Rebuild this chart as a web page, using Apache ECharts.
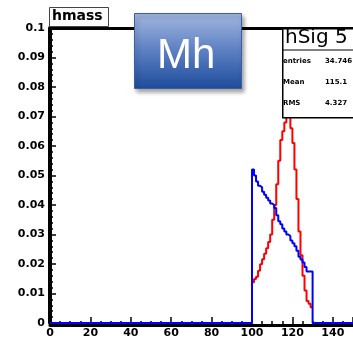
<!DOCTYPE html>
<html>
<head>
<meta charset="utf-8">
<script src="https://cdn.jsdelivr.net/npm/echarts@6/dist/echarts.min.js"></script>
<style>
html,body{margin:0;padding:0;background:#fff;}
#chart{width:353px;height:339px;}
</style>
</head>
<body>
<div id="chart"></div>
<script>
// ---- data ----
const binLowEdges = [100,101,102,103,104,105,106,107,108,109,110,111,112,113,114,115,116,117,118,119,120,121,122,123,124,125,126,127,128,129];
const binWidth = 1;
const blueValues = [0.052,0.050,0.048,0.0465,0.046,0.0445,0.0435,0.0425,0.0415,0.0405,0.040,0.039,0.0365,0.0345,0.0335,0.032,0.031,0.030,0.0295,0.028,0.027,0.026,0.0245,0.0225,0.0215,0.0205,0.019,0.0175,0.0175,0.0175];
const redValues  = [0.0138,0.0149,0.0157,0.0177,0.0199,0.0216,0.0235,0.0253,0.0275,0.030,0.035,0.040,0.047,0.055,0.062,0.065,0.068,0.0705,0.0705,0.066,0.061,0.052,0.042,0.031,0.023,0.016,0.011,0.0075,0.0065,0.0053];
const xMin = 0, xMax = 150, xInterval = 20;
const yMin = 0, yMax = 0.1, yInterval = 0.01;
const histTitle = 'hmass';
const boxLabel = 'Mh';
const statsTitle = 'hSig 5';
const statsNames = ['entries', 'Mean', 'RMS'];
const statsValues = ['34.746', '115.1', '4.327'];

// ---- build histogram outlines ----
const lastEdge = binLowEdges[binLowEdges.length - 1] + binWidth;
const blueData = [[xMin, 0], [binLowEdges[0], 0]];
binLowEdges.forEach((e, i) => blueData.push([e, blueValues[i]]));
blueData.push([lastEdge, blueValues[blueValues.length - 1]], [lastEdge, 0], [xMax, 0]);
const redData = [];
binLowEdges.forEach((e, i) => redData.push([e, redValues[i]]));
redData.push([lastEdge, redValues[redValues.length - 1]]);

const chart = echarts.init(document.getElementById('chart'), null, {renderer: 'canvas'});
const axisFont = {fontFamily: 'DejaVu Sans', fontWeight: 'bold', fontSize: 11, color: '#000'};

const statsGraphics = [];
statsNames.forEach((n, i) => {
  statsGraphics.push({type: 'text', left: 283, top: 58 + i * 21, z: 101,
    style: {text: n, fill: '#000', font: 'bold 7px "DejaVu Sans"'}});
  statsGraphics.push({type: 'text', left: 325, top: 58 + i * 21, z: 101,
    style: {text: statsValues[i], fill: '#000', font: 'bold 7px "DejaVu Sans"'}});
});

chart.setOption({
  animation: false,
  backgroundColor: '#fff',
  grid: {left: 50, top: 28, bottom: 13.5, right: -6, containLabel: false},
  xAxis: [{
    type: 'value', min: xMin, max: xMax, interval: xInterval, offset: 2,
    axisLine: {show: true, onZero: false, lineStyle: {color: '#000', width: 3}},
    axisTick: {show: true, inside: true, length: 8, lineStyle: {color: '#000', width: 1.5}},
    minorTick: {show: true, splitNumber: 4, length: 4, lineStyle: {color: '#000', width: 1.5}},
    splitLine: {show: false},
    axisLabel: Object.assign({margin: 3}, axisFont)
  }, {
    type: 'value', position: 'top', min: xMin, max: xMax,
    axisLine: {show: true, onZero: false, lineStyle: {color: '#000', width: 3}},
    axisTick: {show: false}, axisLabel: {show: false}, splitLine: {show: false}
  }],
  yAxis: {
    type: 'value', min: yMin, max: yMax, interval: yInterval,
    axisLine: {show: true, onZero: false, lineStyle: {color: '#000', width: 4}},
    axisTick: {show: true, inside: true, length: 6, lineStyle: {color: '#000', width: 1.5}},
    minorTick: {show: true, splitNumber: 5, length: 3, lineStyle: {color: '#000', width: 1.5}},
    splitLine: {show: false},
    axisLabel: Object.assign({margin: 5}, axisFont)
  },
  series: [{
    type: 'line', step: 'end', data: redData, showSymbol: false, symbol: 'none',
    lineStyle: {color: '#ff0000', width: 2}, z: 3
  }, {
    type: 'line', step: 'end', data: blueData, showSymbol: false, symbol: 'none',
    lineStyle: {color: '#0000ff', width: 2}, z: 4
  }],
  graphic: [
    {type: 'rect', left: 49, top: 7, z: 100,
      shape: {width: 59, height: 19},
      style: {fill: '#fafafa', stroke: '#444', lineWidth: 1}},
    {type: 'text', left: 52, top: 9, z: 101,
      style: {text: histTitle, fill: '#000', font: 'bold 14px "DejaVu Sans"'}},
    {type: 'rect', left: 134, top: 13, z: 100,
      shape: {width: 107, height: 75},
      style: {
        fill: new echarts.graphic.LinearGradient(0, 0, 0, 1, [
          {offset: 0, color: '#a3b7df'},
          {offset: 0.5, color: '#5b7fc2'},
          {offset: 1, color: '#1d4c9b'}
        ]),
        stroke: '#3d5e9e', lineWidth: 1,
        shadowBlur: 4, shadowOffsetX: 2, shadowOffsetY: 3, shadowColor: 'rgba(0,0,0,0.35)'
      }},
    {type: 'text', left: 157, top: 35, z: 101,
      style: {text: boxLabel, fill: '#fff', font: '42px "Liberation Sans"'}},
    {type: 'rect', left: 282, top: 28, z: 100,
      shape: {width: 90, height: 89},
      style: {fill: '#fff', stroke: '#000', lineWidth: 1.5}},
    {type: 'text', left: 285, top: 28, z: 101,
      style: {text: statsTitle, fill: '#000', font: '20px "DejaVu Sans"'}},
    {type: 'line', z: 101, shape: {x1: 282, y1: 50, x2: 372, y2: 50},
      style: {stroke: '#000', lineWidth: 1}}
  ].concat(statsGraphics)
});
</script>
</body>
</html>
